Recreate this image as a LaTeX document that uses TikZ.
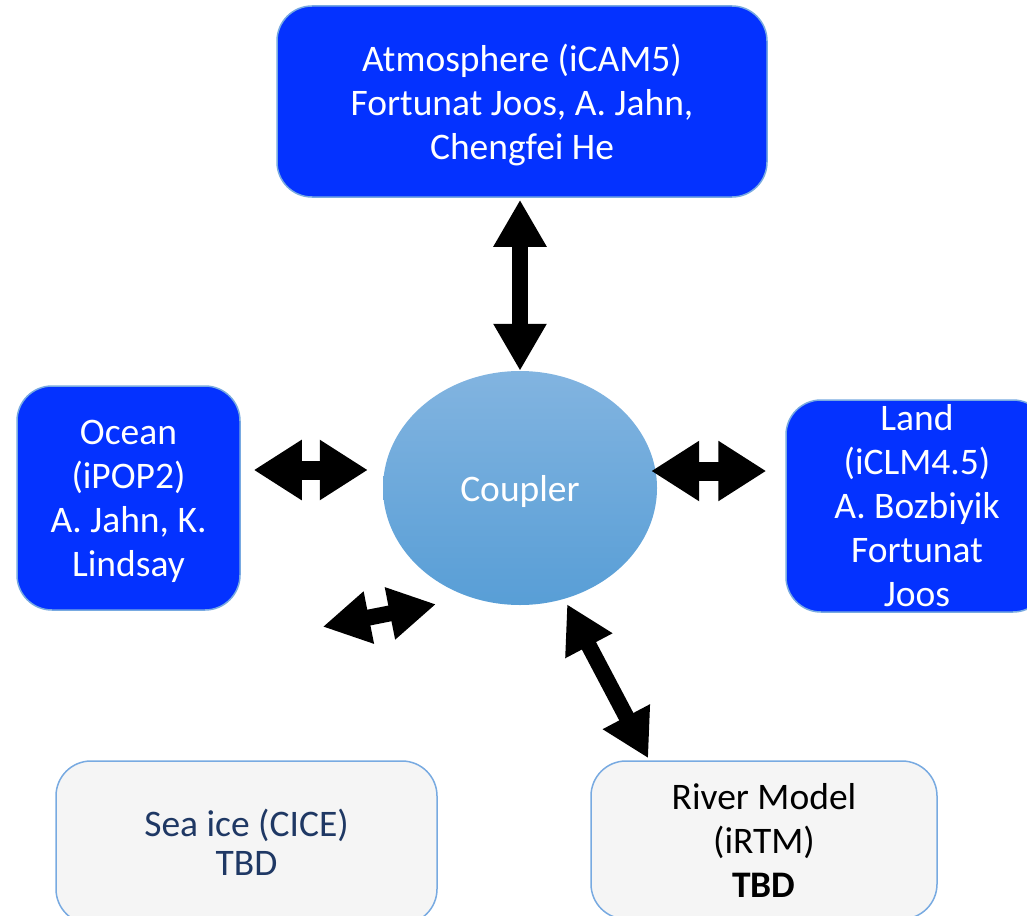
\documentclass[tikz,border=0pt]{standalone}
\usepackage{fontspec}
\setmainfont{Carlito}
\usetikzlibrary{arrows.meta,shapes.geometric}
\definecolor{compblue}{RGB}{4,50,255}
\definecolor{edgeblue}{RGB}{120,170,225}
\definecolor{tbdgrey}{RGB}{245,245,245}
\definecolor{navy}{RGB}{31,56,100}
\definecolor{cpltop}{RGB}{130,180,224}
\definecolor{cplbot}{RGB}{88,158,214}
\tikzset{
  comp/.style={draw=edgeblue, line width=1.5pt, fill=compblue, text=white, rounded corners=35pt, inner sep=0pt, align=center, font=\fontsize{37.5}{44}\selectfont},
  tbd/.style={comp, fill=tbdgrey},
  bigarrow/.style={line width=16pt, {Triangle[length=47pt,width=50pt]}-{Triangle[length=47pt,width=50pt]}},
  widearrow/.style={line width=19pt, {Triangle[length=48pt,width=57pt]}-{Triangle[length=48pt,width=57pt]}}
}
\begin{document}
\begin{tikzpicture}[x=1pt, y=-1pt]
            \useasboundingbox (0,0) rectangle (1027,915);
            \node[comp, text depth=0pt, minimum width=490, minimum height=191] (atm) at (522,101.5) {Atmosphere (iCAM5)\\Fortunat Joos, A. Jahn,\\Chengfei He};
            \node[comp, text depth=0pt, minimum width=223, minimum height=224] (ocn) at (128.5,498) {Ocean\\(iPOP2)\\A. Jahn, K.\\Lindsay};
            \node[comp, minimum width=262, minimum height=212] (land) at (917,506) {Land\\(iCLM4.5)\\A. Bozbiyik\\Fortunat\\Joos};
            \node[ellipse, minimum width=274, minimum height=234, top color=cpltop, bottom color=cplbot, text=white, text depth=0pt, font=\fontsize{37.5}{44}\selectfont] (cpl) at (520,488) {Coupler};
            \node[tbd, text=navy, font=\fontsize{37.5}{39}\selectfont, minimum width=381, minimum height=163] (sea) at (246.5,842.5) {Sea ice (CICE)\\TBD};
            \node[tbd, text=black, minimum width=346, minimum height=158] (riv) at (764,840) {River Model\\(iRTM)\\\textbf{TBD}};
            
            \draw[bigarrow] ([yshift=-2]atm.south -| cpl.north) -- (cpl.north);
            \draw[widearrow] ([shift={(13,-28)}]ocn.east) -- ([shift={(-15,-18)}]cpl.west);
            \draw[widearrow] ([shift={(-6,-17)}]cpl.east) -- ([shift={(-19,-35)}]land.west);
            \draw[bigarrow] ([shift={(82,16)}]ocn.south east) -- ([shift={(-84,-1)}]cpl.south);
            \draw[bigarrow] ([shift={(47,-1)}]cpl.south) -- ([shift={(58,-2)}]riv.north west);
        \end{tikzpicture}
\end{document}
